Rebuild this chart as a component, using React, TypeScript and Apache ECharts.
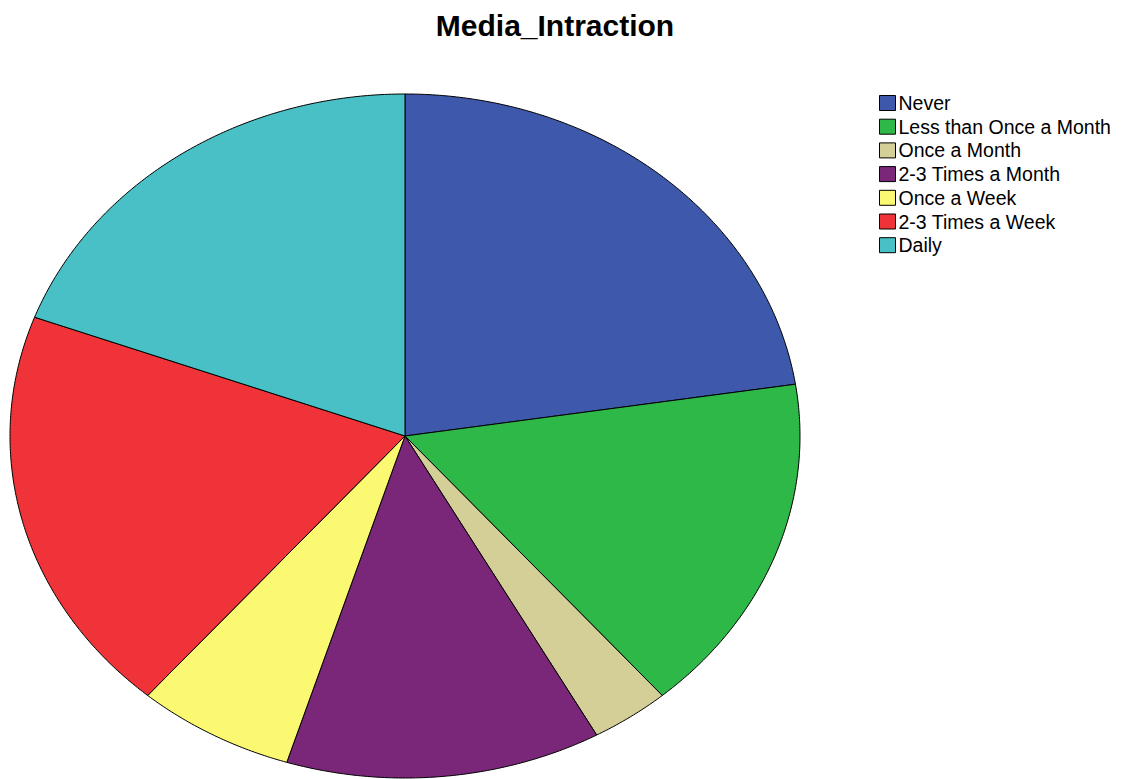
import React, { useEffect, useRef } from "react";
import * as echarts from "echarts";

const categories = [
  "Never",
  "Less than Once a Month",
  "Once a Month",
  "2-3 Times a Month",
  "Once a Week",
  "2-3 Times a Week",
  "Daily",
];
const counts = [14, 10, 2, 8, 4, 12, 12];
const colors = ["#3E58AC", "#2EB848", "#D4CF97", "#7B2779", "#FBF872", "#EF3338", "#48C0C5"];
const titleText = "Media_Intraction";

export default function App() {
  const ref = useRef<HTMLDivElement>(null);
  useEffect(() => {
    document.body.style.margin = "0";
    const chart = echarts.init(ref.current!, null, { renderer: "svg" });
    const total = counts.reduce((a, b) => a + b, 0);
    const starts: number[] = [];
    let acc = 0;
    counts.forEach((c) => {
      starts.push(acc);
      acc += c;
    });
    const cx = 405, cy = 436, rx = 395, ry = 342;
    const series = categories.map((name, i) => ({
      name,
      type: "custom",
      coordinateSystem: "none",
      itemStyle: { color: colors[i] },
      data: [[starts[i], counts[i]]],
      renderItem: (params: any, api: any) => {
        const s = api.value(0);
        const v = api.value(1);
        const a0 = (s / total) * Math.PI * 2;
        const a1 = ((s + v) / total) * Math.PI * 2;
        const pts: number[][] = [[cx, cy]];
        const steps = Math.max(2, Math.ceil(((a1 - a0) * 180) / Math.PI * 2));
        for (let k = 0; k <= steps; k++) {
          const a = a0 + ((a1 - a0) * k) / steps;
          pts.push([cx + rx * Math.sin(a), cy - ry * Math.cos(a)]);
        }
        return {
          type: "polygon",
          shape: { points: pts },
          style: { fill: colors[i], stroke: "#000", lineWidth: 1 },
        };
      },
    }));
    chart.setOption({
      animation: false,
      backgroundColor: "#fff",
      title: {
        text: titleText,
        left: 550,
        textAlign: "center",
        top: 5,
        textStyle: { fontFamily: "Liberation Sans", fontSize: 30, fontWeight: "bold", color: "#000" },
      },
      legend: {
        orient: "vertical",
        left: 874,
        top: 88,
        icon: "rect",
        itemWidth: 16,
        itemHeight: 15,
        itemGap: 3.7,
        selectedMode: false,
        data: categories,
        itemStyle: { borderColor: "#000", borderWidth: 1 },
        textStyle: { fontFamily: "Liberation Sans", fontSize: 19.5, color: "#000", padding: [0, 0, 0, -2] },
      },
      series,
    });
    return () => chart.dispose();
  }, []);
  return <div ref={ref} style={{ width: 1143, height: 779 }} />;
}
